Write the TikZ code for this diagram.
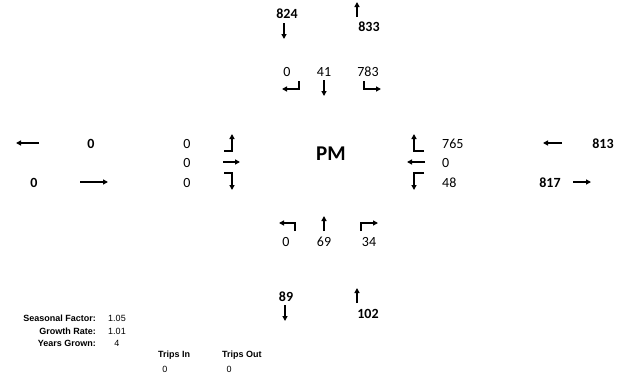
\documentclass[tikz,border=0pt]{standalone}
\usepackage{fontspec}
\setmainfont{Carlito}
\newfontfamily\arialfont{Liberation Sans}
\usetikzlibrary{arrows.meta}

\begin{document}
\begin{tikzpicture}[x=1pt, y=-1pt,
  vol/.style={font=\fontsize{14}{16}\selectfont},
  flow/.style={font=\bfseries\fontsize{14}{16}\selectfont},
  small/.style={font=\arialfont\fontsize{9}{10}\selectfont, inner sep=0},
  smallbold/.style={small, font=\arialfont\bfseries\fontsize{9}{10}\selectfont},
  mv/.style={line width=1.3, -{Triangle[length=5pt,width=5pt]}}]

\useasboundingbox (0,0) rectangle (629,375);

% peak hour label
\node[font=\bfseries\fontsize{21}{24}\selectfont] (pm) at (331,154) {PM};

% north leg
\node[flow] (nIn) at (287,14) {824};
\draw[mv] (284,23) -- (284,39);
\draw[mv] (357,17) -- (357,2);
\node[flow] (nOut) at (369,27) {833};
\node[vol] (nL) at (287,72) {0};
\node[vol] (nT) at (324,72) {41};
\node[vol] (nR) at (368,72) {783};
\draw[mv] (299,81) -- (299,89) -- (282,89);
\draw[mv] (324,80) -- (324,96);
\draw[mv] (364,81) -- (364,89) -- (381,89);

% west leg
\draw[mv] (39,143) -- (16,143);
\node[flow] (wOut) at (91,144) {0};
\node[flow] (wIn) at (34,183) {0};
\draw[mv] (80,182) -- (108,182);
\node[vol] (wL) at (187,144) {0};
\node[vol] (wT) at (187,163) {0};
\node[vol] (wR) at (187,183) {0};
\draw[mv] (224,151) -- (232,151) -- (232,134);
\draw[mv] (223,162) -- (240,162);
\draw[mv] (224,173) -- (232,173) -- (232,190);

% east leg
\node[vol, anchor=west, inner sep=0] (eR) at (442,144) {765};
\node[vol, anchor=west, inner sep=0] (eT) at (442,163) {0};
\node[vol, anchor=west, inner sep=0] (eL) at (442,183) {48};
\draw[mv] (424,151) -- (414,151) -- (414,134);
\draw[mv] (425,162) -- (407,162);
\draw[mv] (424,173) -- (414,173) -- (414,190);
\draw[mv] (562,143) -- (543,143);
\node[flow] (eIn) at (603,144) {813};
\node[flow] (eOut) at (550,183) {817};
\draw[mv] (573,182) -- (591,182);

% south leg
\draw[mv] (295,231) -- (295,223) -- (279,223);
\draw[mv] (324,231) -- (324,216);
\draw[mv] (361,231) -- (361,223) -- (378,223);
\node[vol] (sL) at (286,242) {0};
\node[vol] (sT) at (324,242) {69};
\node[vol] (sR) at (369,242) {34};
\node[flow] (sOut) at (286,297) {89};
\draw[mv] (285,305) -- (285,321);
\draw[mv] (357,303) -- (357,288);
\node[flow] (sIn) at (368,314) {102};

% growth factors
\node[smallbold, anchor=east] (sfLab) at (96,318) {Seasonal Factor:};
\node[small] (sfVal) at (117,318) {1.05};
\node[smallbold, anchor=east] (grLab) at (96,331) {Growth Rate:};
\node[small] (grVal) at (117,331) {1.01};
\node[smallbold, anchor=east] (ygLab) at (96,343) {Years Grown:};
\node[small] (ygVal) at (117,343) {4};

% trips
\node[smallbold, anchor=west] (tiLab) at (158,355) {Trips In};
\node[small] (tiVal) at (165,369) {0};
\node[smallbold, anchor=west] (toLab) at (222,355) {Trips Out};
\node[small] (toVal) at (229,369) {0};

\end{tikzpicture}
\end{document}
